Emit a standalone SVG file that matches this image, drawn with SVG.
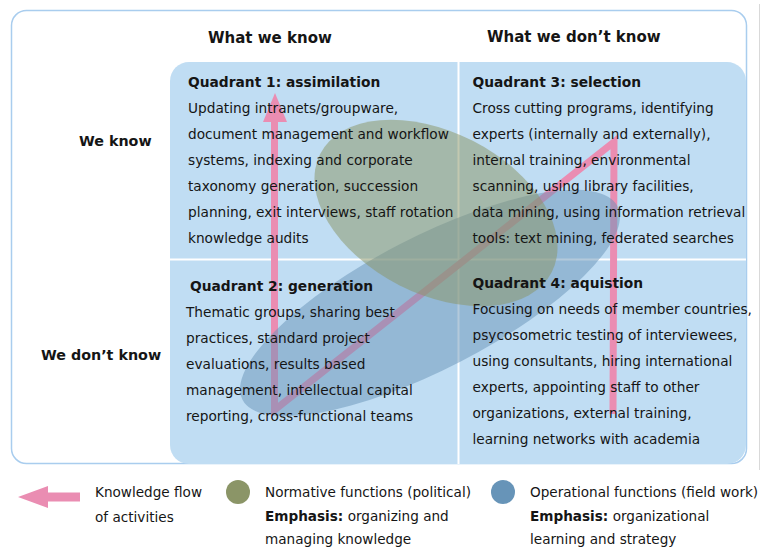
<svg xmlns="http://www.w3.org/2000/svg" width="762" height="547" viewBox="0 0 762 547">
<style>
text{font-family:'DejaVu Sans',Verdana,sans-serif;fill:#151515}
.hd{font-size:15px;font-weight:bold}
.rh{font-size:14.3px;font-weight:bold}
.qt{font-size:13.8px;font-weight:bold}
.bd{font-size:13.7px}
.lg{font-size:13.6px}
.b{font-weight:bold}
.flow{fill:none;stroke:#ea8db2;stroke-width:7;stroke-linejoin:miter}
</style>
<rect width="762" height="547" fill="#ffffff"/>
<line x1="759.5" y1="4" x2="759.5" y2="470" stroke="#d9d9d9" stroke-width="1"/>
<rect id="frame" x="11.5" y="10.5" width="735" height="453" rx="15" fill="#ffffff" stroke="#a9cdee" stroke-width="1.5"/>
<g id="grid">
<rect x="170" y="62" width="576" height="402" rx="19" fill="#c0ddf3"/>
<line x1="458.5" y1="62" x2="458.5" y2="464" stroke="#ffffff" stroke-width="2"/>
<line x1="170" y1="259.5" x2="746" y2="259.5" stroke="#ffffff" stroke-width="2"/>
</g>
<g id="connectors">
<polyline class="flow" points="613,414 614,142 274.5,410 274.5,121"/>
<polygon points="263,122 275,93 287,122" fill="#ea8db2"/>
</g>
<g id="ellipses">
<ellipse id="operational" cx="430" cy="303" rx="211" ry="66" transform="rotate(-27.3 430 303)" fill="#6794b8" opacity="0.5"/>
<ellipse id="normative" cx="436" cy="213" rx="130" ry="81" transform="rotate(27 436 213)" fill="#8b9567" opacity="0.52"/>
</g>
<g id="headers">
<text class="hd" x="208" y="43">What we know</text>
<text class="hd" x="487" y="42">What we don’t know</text>
<text class="rh" x="79" y="146">We know</text>
<text class="rh" x="41" y="360">We don’t know</text>
</g>
<g id="q1">
<text class="qt" x="188" y="87">Quadrant 1: assimilation</text>
<text class="bd"><tspan x="188" y="113">Updating intranets/groupware,</tspan><tspan x="188" y="139">document management and workflow</tspan><tspan x="188" y="165">systems, indexing and corporate</tspan><tspan x="188" y="191">taxonomy generation, succession</tspan><tspan x="188" y="217">planning, exit interviews, staff rotation</tspan><tspan x="188" y="243">knowledge audits</tspan></text>
</g>
<g id="q2">
<text class="qt" x="190" y="291">Quadrant 2: generation</text>
<text class="bd"><tspan x="186" y="317">Thematic groups, sharing best</tspan><tspan x="186" y="343">practices, standard project</tspan><tspan x="186" y="369">evaluations, results based</tspan><tspan x="186" y="395">management, intellectual capital</tspan><tspan x="186" y="421">reporting, cross-functional teams</tspan></text>
</g>
<g id="q3">
<text class="qt" x="472.5" y="87">Quadrant 3: selection</text>
<text class="bd"><tspan x="472.5" y="113">Cross cutting programs, identifying</tspan><tspan x="472.5" y="139">experts (internally and externally),</tspan><tspan x="472.5" y="165">internal training, environmental</tspan><tspan x="472.5" y="191">scanning, using library facilities,</tspan><tspan x="472.5" y="217">data mining, using information retrieval</tspan><tspan x="472.5" y="243">tools: text mining, federated searches</tspan></text>
</g>
<g id="q4">
<text class="qt" x="472.5" y="288">Quadrant 4: aquistion</text>
<text class="bd"><tspan x="472.5" y="314">Focusing on needs of member countries,</tspan><tspan x="472.5" y="340">psycosometric testing of interviewees,</tspan><tspan x="472.5" y="366">using consultants, hiring international</tspan><tspan x="472.5" y="392">experts, appointing staff to other</tspan><tspan x="472.5" y="418">organizations, external training,</tspan><tspan x="472.5" y="444">learning networks with academia</tspan></text>
</g>
<g id="legend-flow">
<polygon points="18,497 48,486 48,492.5 80,492.5 80,501.5 48,501.5 48,508" fill="#ea8db2"/>
<text class="lg"><tspan x="95" y="497">Knowledge flow</tspan><tspan x="95" y="522">of activities</tspan></text>
</g>
<g id="legend-normative">
<circle cx="238" cy="492" r="12" fill="#8b9567"/>
<text class="lg"><tspan x="265" y="497">Normative functions (political)</tspan><tspan x="265" y="521"><tspan class="b">Emphasis:</tspan> organizing and</tspan><tspan x="265" y="544">managing knowledge</tspan></text>
</g>
<g id="legend-operational">
<circle cx="503" cy="492" r="12" fill="#6794b8"/>
<text class="lg"><tspan x="530" y="497">Operational functions (field work)</tspan><tspan x="530" y="521"><tspan class="b">Emphasis:</tspan> organizational</tspan><tspan x="530" y="544">learning and strategy</tspan></text>
</g>
</svg>
